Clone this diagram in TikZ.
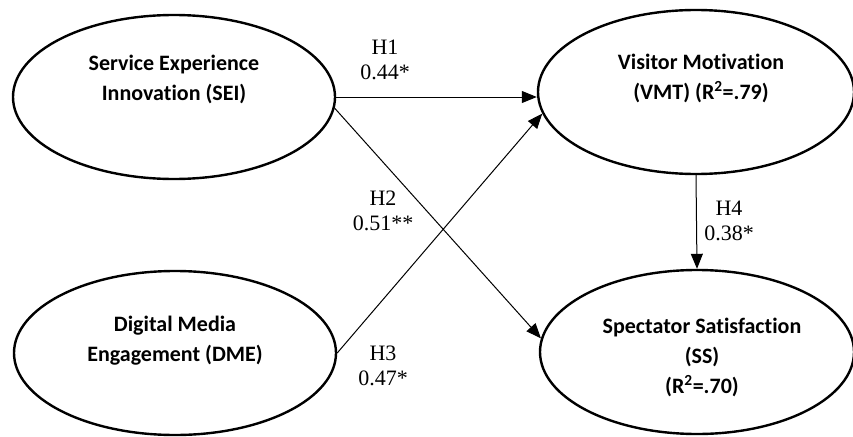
\documentclass[tikz,border=0pt]{standalone}
\usepackage{fontspec}
\setmainfont{Liberation Serif}
\newfontfamily\constructfont[Ligatures=NoCommon]{Carlito}
\usepackage{tikz}
\usetikzlibrary{shapes,arrows.meta,calc,positioning}

\tikzset{
	construct/.style={ellipse, draw, line width=2.4pt, minimum width=322pt, minimum height=164pt},
	ctext/.style={font=\constructfont\bfseries\fontsize{22}{30}\selectfont, align=center},
	hyp/.style={-{Triangle[length=15pt,width=12pt]}, line width=1pt},
	coef/.style={font=\fontsize{22}{25}\selectfont, align=center}
}

\begin{document}
\begin{tikzpicture}[x=1pt,y=-1pt]
	\useasboundingbox (0,0) rectangle (853,436);
	% constructs
	\node[construct, label={[ctext,yshift=18pt]center:Service Experience\\Innovation (SEI)}] (SEI) at (174,97) {};
	\node[construct, label={[ctext,yshift=12pt]center:Digital Media\\Engagement (DME)}] (DME) at (175,353) {};
	\node[construct, minimum width=316pt, label={[ctext,yshift=14pt,xshift=5pt]center:Visitor Motivation\\(VMT) (R\textsuperscript{2}=.79)}] (VMT) at (696,92) {};
	\node[construct, minimum width=314pt, label={[ctext,yshift=-5pt,xshift=5pt]center:Spectator Satisfaction\\(SS)\\(R\textsuperscript{2}=.70)}] (SS) at (697,352) {};

	% paths
	\path (SEI.east) edge[hyp] (SEI.east -| VMT.west);
	\path (SEI.-4) edge[hyp] (SS.175);
	\path (DME.east) edge[hyp] (VMT.188);
	\path (VMT.south) edge[hyp] (SS.north);

	% coefficients
	\node[coef] (H1) at (385,60) {H1\\0.44*};
	\node[coef] (H2) at (383,211) {H2\\0.51**};
	\node[coef] (H3) at (383,366) {H3\\0.47*};
	\node[coef] (H4) at (729,221) {H4\\0.38*};
\end{tikzpicture}
\end{document}
